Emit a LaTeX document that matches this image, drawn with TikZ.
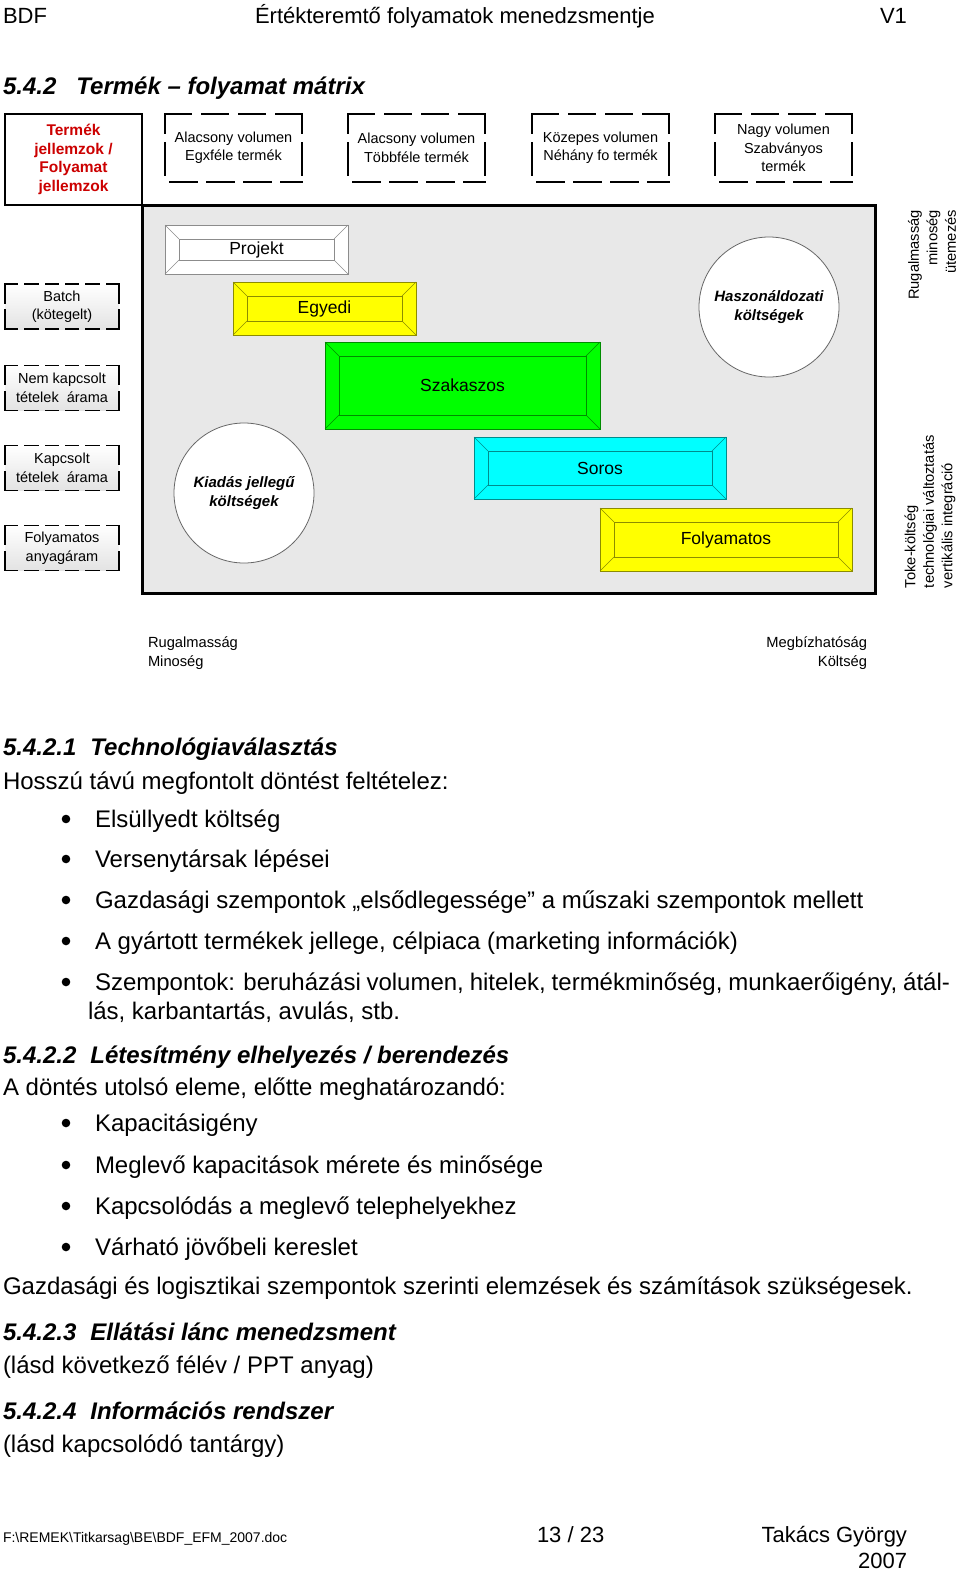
\documentclass[tikz,border=0pt]{standalone}
\usepackage{fontspec}
\setmainfont{Liberation Sans}
\usetikzlibrary{calc}
\definecolor{boxgray}{RGB}{232,232,232}
\definecolor{titlered}{RGB}{204,0,0}
\definecolor{myyellow}{RGB}{255,255,0}
\definecolor{mygreen}{RGB}{0,255,0}
\definecolor{mycyan}{RGB}{0,255,255}
\newcommand\bevelbox[7]{%
  \node[bevel, fill=#6, draw=#6!55!black, minimum width=#4, minimum height=#5] (#1) at (#2,#3) {#7};
  \draw[bevelline, draw=#6!55!black] ($(#1.north west)+(14,14)$) rectangle ($(#1.south east)+(-14,-14)$);
  \draw[bevelline, draw=#6!55!black] (#1.north west) -- ($(#1.north west)+(14,14)$)
     (#1.north east) -- ($(#1.north east)+(-14,14)$)
     (#1.south west) -- ($(#1.south west)+(14,-14)$)
     (#1.south east) -- ($(#1.south east)+(-14,-14)$);
}
\newcommand\dashframe[3]{%
  \draw[dashedge, dash pattern=#2] (#1.north west) -- (#1.north east);
  \draw[dashedge, dash pattern=#2] (#1.south west) -- (#1.south east);
  \draw[dashedge, dash pattern=#3] (#1.north west) -- (#1.south west);
  \draw[dashedge, dash pattern=#3] (#1.north east) -- (#1.south east);
}
\newcommand\colframe[1]{%
  \draw[dashedge, dash pattern=on 26pt off 11pt] (#1.north west) -- (#1.north east);
  \draw[dashedge, dash pattern=on 27pt off 10pt, dash phase=32pt] (#1.south west) -- (#1.south east);
  \draw[dashedge, dash pattern=on 19pt off 10pt on 32pt off 20pt] (#1.north west) -- (#1.south west);
  \draw[dashedge, dash pattern=on 19pt off 10pt on 32pt off 20pt] (#1.north east) -- (#1.south east);
}
\begin{document}
\begin{tikzpicture}[x=1pt,y=-1pt,
  every node/.style={inner sep=0pt, outer sep=0pt},
  hdrtext/.style={font=\fontsize{22}{26}\selectfont, anchor=base west},
  headtext/.style={font=\fontsize{24}{28}\selectfont\bfseries\itshape, anchor=base west},
  bodytext/.style={font=\fontsize{24}{28}\selectfont, anchor=base west},
  dashedge/.style={draw=black, line width=1.8pt, line cap=rect},
  colhead/.style={fill=white,
     minimum width=137, minimum height=68, align=center, font=\fontsize{14.5}{18.5}\selectfont},
  rowhead/.style={top color=white, bottom color=gray!22,
     minimum width=114, minimum height=45, align=center, font=\fontsize{14.5}{18.5}\selectfont},
  bevel/.style={line width=0.8pt, font=\fontsize{17.5}{21}\selectfont},
  bevelline/.style={line width=0.6pt},
  costcircle/.style={circle, draw=gray!80!black, line width=0.8pt, fill=white, minimum size=140,
     align=center, font=\fontsize{15}{18.5}\selectfont\bfseries\itshape},
  sidetext/.style={font=\fontsize{14.7}{18.5}\selectfont},
  bulletdot/.style={fill=black}
]
\useasboundingbox (0,0) rectangle (960,1571);
\fill[white] (0,0) rectangle (960,1571);

% page header
\node[hdrtext] (hbdf) at (3,24) {BDF};
\node[hdrtext] (htitle) at (255,24) {Értékteremtő folyamatok menedzsmentje};
\node[hdrtext] (hv) at (880,24) {V1};

\node[headtext] (sec) at (3,94) {5.4.2\hspace{20pt}Termék – folyamat mátrix};

% matrix frame
\node[draw=black, line width=2pt, minimum width=137, minimum height=91, align=center,
      text=titlered, font=\fontsize{15.5}{18.5}\selectfont\bfseries] (corner) at (73.5,159.5)
      {Termék\\jellemzok /\\Folyamat\\jellemzok};
\node[draw=black, line width=3pt, fill=boxgray, minimum width=733, minimum height=388] (main) at (508.5,399) {};

% column headers
\node[colhead] (c1) at (233.5,148) {Alacsony volumen\\Egxféle termék};
\node[colhead] (c2) at (416.5,148) {Alacsony volumen\\Többféle termék};
\node[colhead] (c3) at (600.5,148) {Közepes volumen\\Néhány fo termék};
\node[colhead] (c4) at (783.5,148) {Nagy volumen\\Szabványos\\termék};
\foreach \n in {c1,c2,c3,c4} {\colframe{\n}}

% row headers
\node[rowhead] (r1) at (62,306.5) {Batch\\(kötegelt)};
\node[rowhead] (r2) at (62,388) {Nem kapcsolt\\tételek\ \ árama};
\node[rowhead] (r3) at (62,468) {Kapcsolt\\tételek\ \ árama};
\node[rowhead] (r4) at (62,548) {Folyamatos\\anyagáram};
\foreach \n in {r1,r2,r3,r4} {\dashframe{\n}{on 12.5pt off 7.8pt}{on 19pt off 7pt}}

% process boxes
\bevelbox{projekt}{256.5}{249.5}{183}{49}{white}{Projekt}
\bevelbox{egyedi}{324.5}{308.5}{183}{53}{myyellow}{Egyedi}
\bevelbox{szak}{462.5}{385.5}{275}{87}{mygreen}{Szakaszos}
\bevelbox{soros}{600}{468}{252}{62}{mycyan}{Soros}
\bevelbox{folyam}{726}{539.5}{252}{63}{myyellow}{Folyamatos}

% cost circles
\node[costcircle] (hasz) at (769,307) {Haszonáldozati\\költségek};
\node[costcircle] (kiad) at (244,493) {Kiadás jellegű\\költségek};

% side labels
\node[sidetext, rotate=90, anchor=east, align=right] (sideup) at (932,210) {Rugalmasság\\minoség\\ütemezés};
\node[sidetext, rotate=90, anchor=west, align=left] (sidedown) at (930,588) {Toke-költség\\technológiai változtatás\\vertikális integráció};
\node[sidetext, anchor=west, align=left] (botl) at (148,653) {Rugalmasság\\Minoség};
\node[sidetext, anchor=east, align=right] (botr) at (867,653) {Megbízhatóság\\Költség};

% text body
\node[headtext] (s1) at (3,755) {5.4.2.1\hspace{14pt}Technológiaválasztás};
\node[bodytext] (t1) at (3,789) {Hosszú távú megfontolt döntést feltételez:};
\fill[bulletdot] (66,819) circle[radius=4.3pt];
\node[bodytext] (b1) at (95,827) {Elsüllyedt költség};
\fill[bulletdot] (66,859) circle[radius=4.3pt];
\node[bodytext] (b2) at (95,867) {Versenytársak lépései};
\fill[bulletdot] (66,900) circle[radius=4.3pt];
\node[bodytext] (b3) at (95,908) {Gazdasági szempontok „elsődlegessége” a műszaki szempontok mellett};
\fill[bulletdot] (66,941) circle[radius=4.3pt];
\node[bodytext] (b4) at (95,949) {A gyártott termékek jellege, célpiaca (marketing információk)};
\fill[bulletdot] (66,982) circle[radius=4.3pt];
\node[bodytext] (b5) at (95,990) {\makebox[855pt][s]{Szempontok: beruházási volumen, hitelek, termékminőség, munkaerőigény, átál-}};
\node[bodytext] (b5b) at (88,1019) {lás, karbantartás, avulás, stb.};

\node[headtext] (s2) at (3,1063) {5.4.2.2\hspace{14pt}Létesítmény elhelyezés / berendezés};
\node[bodytext] (t2) at (3,1095) {A döntés utolsó eleme, előtte meghatározandó:};
\fill[bulletdot] (66,1123) circle[radius=4.3pt];
\node[bodytext] (k1) at (95,1131) {Kapacitásigény};
\fill[bulletdot] (66,1165) circle[radius=4.3pt];
\node[bodytext] (k2) at (95,1173) {Meglevő kapacitások mérete és minősége};
\fill[bulletdot] (66,1206) circle[radius=4.3pt];
\node[bodytext] (k3) at (95,1214) {Kapcsolódás a meglevő telephelyekhez};
\fill[bulletdot] (66,1247) circle[radius=4.3pt];
\node[bodytext] (k4) at (95,1255) {Várható jövőbeli kereslet};
\node[bodytext] (t3) at (3,1294) {Gazdasági és logisztikai szempontok szerinti elemzések és számítások szükségesek.};

\node[headtext] (s3) at (3,1340) {5.4.2.3\hspace{14pt}Ellátási lánc menedzsment};
\node[bodytext] (t4) at (3,1373) {(lásd következő félév / PPT anyag)};
\node[headtext] (s4) at (3,1419) {5.4.2.4\hspace{14pt}Információs rendszer};
\node[bodytext] (t5) at (3,1452) {(lásd kapcsolódó tantárgy)};

% footer
\node[anchor=base west, font=\fontsize{14}{16}\selectfont] (fpath) at (3,1542) {F:\textbackslash REMEK\textbackslash Titkarsag\textbackslash BE\textbackslash BDF\_EFM\_2007.doc};
\node[hdrtext] (fpage) at (537,1542) {13 / 23};
\node[hdrtext, anchor=base east] (fauth) at (907,1542) {Takács György};
\node[hdrtext, anchor=base east] (fyear) at (907,1568) {2007};
\end{tikzpicture}
\end{document}
